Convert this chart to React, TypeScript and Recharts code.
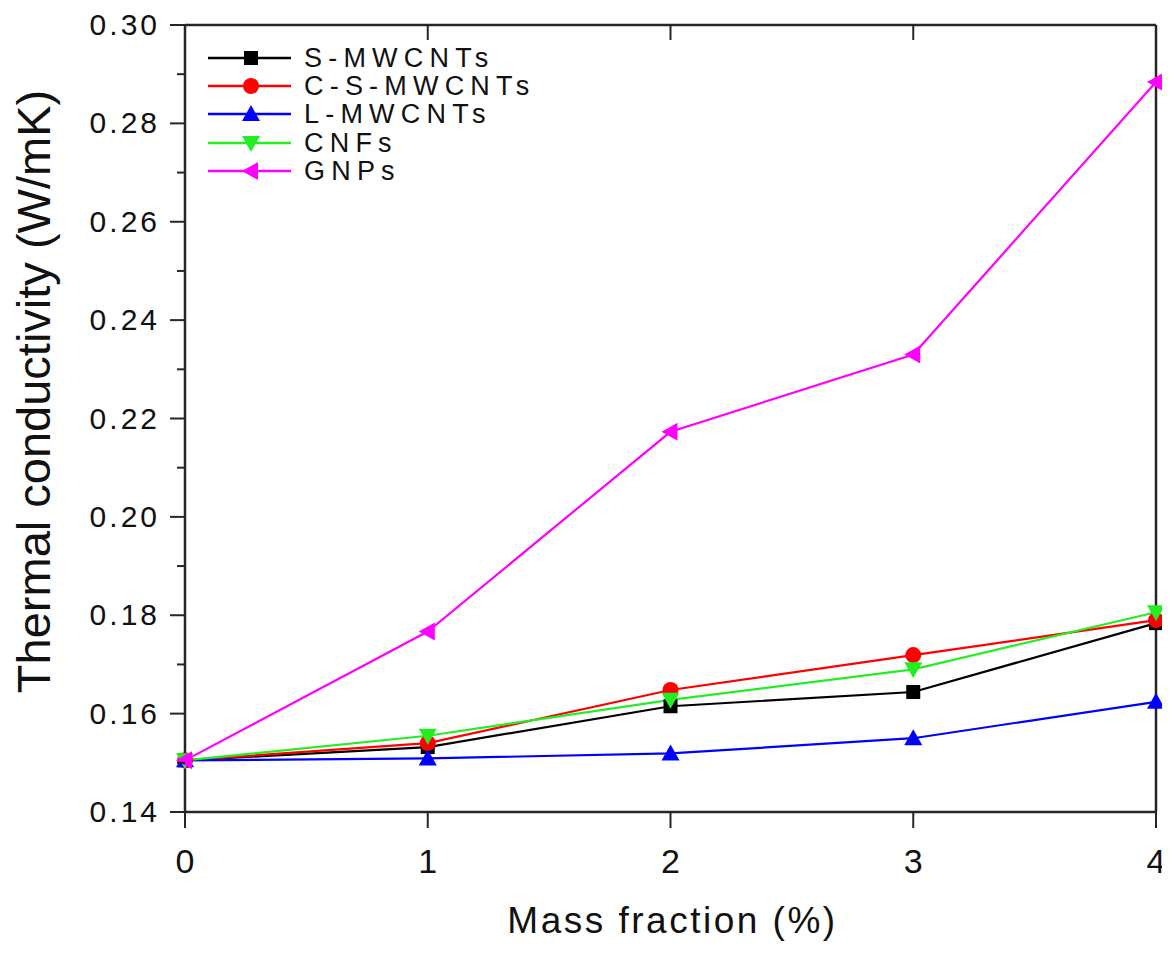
import React from 'react';
import { LineChart, Line, XAxis, YAxis, Legend } from 'recharts';

const massFraction = [0, 1, 2, 3, 4];
const sMWCNTs = [0.1505, 0.1532, 0.1615, 0.1644, 0.1784];
const csMWCNTs = [0.1505, 0.154, 0.1648, 0.1719, 0.179];
const lMWCNTs = [0.1505, 0.1509, 0.1519, 0.155, 0.1624];
const cnfs = [0.1505, 0.1555, 0.1628, 0.169, 0.1806];
const gnps = [0.1505, 0.1767, 0.2173, 0.233, 0.2884];

const yTicks = [0.14, 0.15, 0.16, 0.17, 0.18, 0.19, 0.2, 0.21, 0.22, 0.23, 0.24, 0.25, 0.26, 0.27, 0.28, 0.29, 0.3];
const yMajorLabels = ['0.14', '0.16', '0.18', '0.20', '0.22', '0.24', '0.26', '0.28', '0.30'];
const xTicks = [0, 1, 2, 3, 4];

const data = massFraction.map((x, i) => ({
  x,
  s: sMWCNTs[i],
  cs: csMWCNTs[i],
  l: lMWCNTs[i],
  cnf: cnfs[i],
  gnp: gnps[i],
}));

const FONT = '"Liberation Sans", Arial, Helvetica, sans-serif';
const AXIS = '#262626';
const TEXT = '#111';

const seriesDefs = [
  { key: 's', name: 'S-MWCNTs', color: '#000000', shape: 'square' },
  { key: 'cs', name: 'C-S-MWCNTs', color: '#ff0000', shape: 'circle' },
  { key: 'l', name: 'L-MWCNTs', color: '#0000ff', shape: 'up' },
  { key: 'cnf', name: 'CNFs', color: '#22ee22', shape: 'down' },
  { key: 'gnp', name: 'GNPs', color: '#ff00ff', shape: 'left' },
];

function Marker({ cx, cy, shape, color }: any) {
  if (cx == null || cy == null) return null;
  if (shape === 'square') return <rect x={cx - 7} y={cy - 7} width={14} height={14} fill={color} />;
  if (shape === 'circle') return <circle cx={cx} cy={cy} r={8} fill={color} />;
  if (shape === 'up') return <polygon points={`${cx},${cy - 9} ${cx + 9},${cy + 7} ${cx - 9},${cy + 7}`} fill={color} />;
  if (shape === 'down') return <polygon points={`${cx},${cy + 9} ${cx + 9},${cy - 7} ${cx - 9},${cy - 7}`} fill={color} />;
  return <polygon points={`${cx - 9},${cy} ${cx + 7},${cy - 9} ${cx + 7},${cy + 9}`} fill={color} />;
}

const isMajor = (v: number) => Math.round(v * 100) % 2 === 0;
const fmt = (v: number) => yMajorLabels.find((l) => Math.abs(parseFloat(l) - v) < 1e-6) || '';

function LeftTick({ x, y, payload }: any) {
  const major = isMajor(payload.value);
  return (
    <g>
      <line x1={x - (major ? 15 : 8)} x2={x} y1={y} y2={y} stroke={AXIS} strokeWidth={2} />
      {major && (
        <text x={x - 25} y={y + 10} textAnchor="end" fontSize={30} letterSpacing={3} fill={TEXT} fontFamily={FONT}>
          {fmt(payload.value)}
        </text>
      )}
    </g>
  );
}

function RightTick({ x, y, payload }: any) {
  const major = isMajor(payload.value);
  return <line x1={x - (major ? 14 : 9)} x2={x} y1={y} y2={y} stroke={AXIS} strokeWidth={2} />;
}

function BottomTick({ x, y, payload }: any) {
  return (
    <g>
      <line x1={x} x2={x} y1={y} y2={y + 16} stroke={AXIS} strokeWidth={2} />
      <text x={x} y={y + 61} textAnchor="middle" fontSize={34} fill={TEXT} fontFamily={FONT}>
        {String(payload.value)}
      </text>
    </g>
  );
}

function TopTick({ x, y }: any) {
  return <line x1={x} x2={x} y1={y} y2={y + 15} stroke={AXIS} strokeWidth={2} />;
}

function YLabel({ viewBox }: any) {
  const cx = 33;
  const cy = viewBox.y + viewBox.height / 2 - 27;
  return (
    <text
      x={cx}
      y={cy}
      transform={`rotate(-90, ${cx}, ${cy})`}
      textAnchor="middle"
      dominantBaseline="central"
      fontSize={47}
      fill={TEXT}
      fontFamily={FONT}
    >
      Thermal conductivity (W/mK)
    </text>
  );
}

function XLabel({ viewBox }: any) {
  const cx = viewBox.x + viewBox.width / 2 + 2;
  return (
    <text x={cx} y={933} textAnchor="middle" fontSize={37} letterSpacing={2.5} fill={TEXT} fontFamily={FONT}>
      Mass fraction (%)
    </text>
  );
}

function LegendContent() {
  return (
    <div style={{ fontFamily: FONT }}>
      {seriesDefs.map((s) => (
        <div key={s.key} style={{ display: 'flex', alignItems: 'center', height: 28.2 }}>
          <svg width={90} height={28} style={{ display: 'block', flex: 'none' }}>
            <line x1={3} x2={86} y1={14} y2={14} stroke={s.color} strokeWidth={2.5} />
            <Marker cx={46} cy={14} shape={s.shape} color={s.color} />
          </svg>
          <span style={{ fontSize: 27, letterSpacing: 6.2, color: TEXT, marginLeft: 9, lineHeight: '28px', whiteSpace: 'nowrap' }}>
            {s.name}
          </span>
        </div>
      ))}
    </div>
  );
}

export default function App() {
  return (
    <div style={{ marginLeft: -8, marginTop: -8, width: 1170, height: 953, background: '#fff' }}>
      <LineChart width={1170} height={953} data={data} margin={{ top: 0, right: 0, left: 0, bottom: 0 }}>
        <XAxis
          xAxisId="bottom"
          dataKey="x"
          type="number"
          domain={[0, 4]}
          ticks={xTicks}
          orientation="bottom"
          height={141}
          axisLine={{ stroke: AXIS, strokeWidth: 2.5 }}
          tickLine={false}
          tickSize={0}
          tickMargin={0}
          tick={<BottomTick />}
          label={<XLabel />}
        />
        <XAxis
          xAxisId="top"
          dataKey="x"
          type="number"
          domain={[0, 4]}
          ticks={xTicks}
          orientation="top"
          height={25}
          axisLine={{ stroke: AXIS, strokeWidth: 2.5 }}
          tickLine={false}
          tickSize={0}
          tickMargin={0}
          tick={<TopTick />}
        />
        <YAxis
          yAxisId="left"
          type="number"
          domain={[0.14, 0.3]}
          ticks={yTicks}
          width={185}
          axisLine={{ stroke: AXIS, strokeWidth: 2.5 }}
          tickLine={false}
          tickSize={0}
          tickMargin={0}
          tick={<LeftTick />}
          interval={0}
          label={<YLabel />}
        />
        <YAxis
          yAxisId="right"
          orientation="right"
          type="number"
          domain={[0.14, 0.3]}
          ticks={yTicks}
          width={14}
          axisLine={{ stroke: AXIS, strokeWidth: 2.5 }}
          tickLine={false}
          tickSize={0}
          tickMargin={0}
          tick={<RightTick />}
          interval={0}
        />
        <Legend
          layout="vertical"
          verticalAlign="middle"
          align="center"
          content={<LegendContent />}
          wrapperStyle={{ position: 'absolute', left: 205, top: 44, width: 420, height: 145 }}
        />
        {seriesDefs.map((s) => (
          <Line
            key={s.key}
            xAxisId="bottom"
            yAxisId="left"
            type="linear"
            dataKey={s.key}
            name={s.name}
            stroke={s.color}
            strokeWidth={2.2}
            dot={(p: any) => <Marker key={`${s.key}-${p.index}`} cx={p.cx} cy={p.cy} shape={s.shape} color={s.color} />}
            activeDot={false}
            isAnimationActive={false}
          />
        ))}
      </LineChart>
    </div>
  );
}
